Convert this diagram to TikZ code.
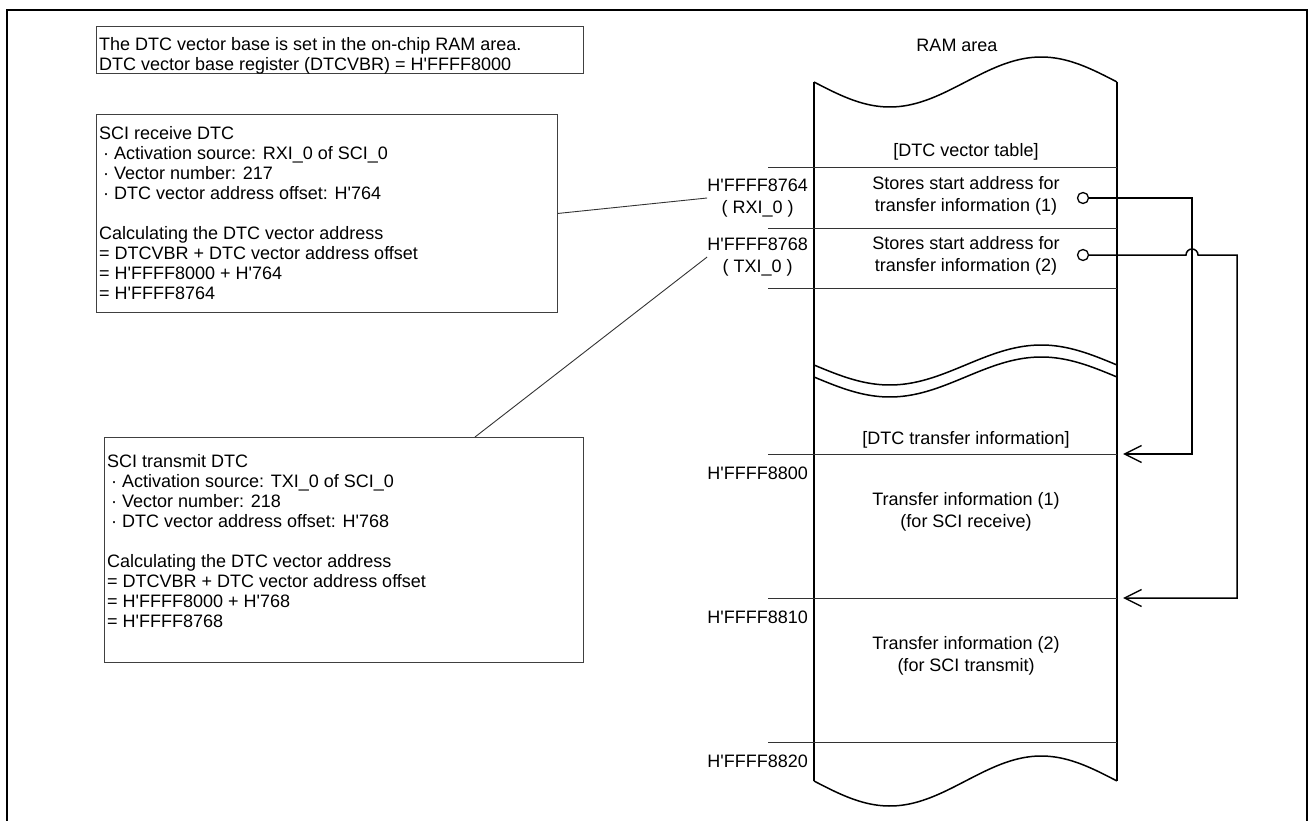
\documentclass[tikz,border=0pt]{standalone}
\usepackage{fontspec}
\newfontfamily\arial{Liberation Sans}
\usetikzlibrary{arrows.meta}
\begin{document}
\begin{tikzpicture}[x=1pt,y=-1pt,
  txt/.style={font=\arial\fontsize{18}{20}\selectfont, inner sep=0pt, align=left},
  ctxt/.style={font=\arial\fontsize{18}{22}\selectfont, inner sep=0pt, align=center},
  boxline/.style={draw=black!75, line width=0.9pt, inner sep=0pt},
  ramline/.style={line width=1.5pt},
  divline/.style={line width=0.9pt, draw=black!80},
  conn/.style={line width=1.5pt},
  tip/.style={-{Straight Barb[length=17pt,width=17pt,line width=1.4pt]}},
  port/.style={circle, draw, line width=1.3pt, minimum size=11pt, inner sep=0pt, fill=white},
  frame/.style={line width=2.5pt}
]
\useasboundingbox (0,0) rectangle (1314,821);
\draw[frame] (7,830) -- (7,10) -- (1307,10) -- (1307,830);

% left boxes
\node[boxline, anchor=north west, minimum width=487pt, minimum height=47pt] (b1) at (96,26) {};
\node[txt, anchor=north west] (t1) at (99,37.5) {The DTC vector base is set in the on-chip RAM area.\\DTC vector base register (DTCVBR) = H'FFFF8000};

\node[boxline, anchor=north west, minimum width=461pt, minimum height=198pt] (b2) at (96,114) {};
\node[txt, anchor=north west] (t2) at (99,126.5) {SCI receive DTC\\
\hspace{4pt}·\ Activation source: RXI\_0 of SCI\_0\\
\hspace{4pt}·\ Vector number: 217\\
\hspace{4pt}·\ DTC vector address offset: H'764\\[20pt]
Calculating the DTC vector address\\
= DTCVBR + DTC vector address offset\\
= H'FFFF8000 + H'764\\
= H'FFFF8764};

\node[boxline, anchor=north west, minimum width=479pt, minimum height=225pt] (b3) at (104,437) {};
\node[txt, anchor=north west] (t3) at (107,454.5) {SCI transmit DTC\\
\hspace{4pt}·\ Activation source: TXI\_0 of SCI\_0\\
\hspace{4pt}·\ Vector number: 218\\
\hspace{4pt}·\ DTC vector address offset: H'768\\[20pt]
Calculating the DTC vector address\\
= DTCVBR + DTC vector address offset\\
= H'FFFF8000 + H'768\\
= H'FFFF8768};

% RAM area
\node[ctxt] (ramtitle) at (957,45) {RAM area};
\draw[ramline] (814,82) -- (814,781);
\draw[ramline] (1117,82) -- (1117,781);
\draw[ramline] plot[domain=0:1, samples=90] ({814+303*\x},{82+25*sin(360*\x)});
\draw[ramline] plot[domain=0:1, samples=90] ({814+303*\x},{365+20*sin(360*\x)});
\draw[ramline] plot[domain=0:1, samples=90] ({814+303*\x},{377+20*sin(360*\x)});
\draw[ramline] plot[domain=0:1, samples=90] ({814+303*\x},{781+25*sin(360*\x)});

% dividers
\foreach \yy in {167,228,288,454,598,742}
  \draw[divline] (768,\yy) -- (1117,\yy);

% contents
\node[ctxt] (vt) at (966,152) {[DTC vector table]};
\node[ctxt] (s1) at (966,196) {Stores start address for\\transfer information (1)};
\node[ctxt] (s2) at (966,256) {Stores start address for\\transfer information (2)};
\node[ctxt] (ti) at (966,440) {[DTC transfer information]};
\node[ctxt] (tr1) at (966,512) {Transfer information (1)\\(for SCI receive)};
\node[ctxt] (tr2) at (966,656) {Transfer information (2)\\(for SCI transmit)};

% address labels
\node[ctxt, anchor=east] (lab1) at (808,198) {H'FFFF8764\\( RXI\_0 )};
\node[ctxt, anchor=east] (lab2) at (808,257) {H'FFFF8768\\( TXI\_0 )};
\node[ctxt, anchor=east] (lab3) at (808,473) {H'FFFF8800};
\node[ctxt, anchor=east] (lab4) at (808,617) {H'FFFF8810};
\node[ctxt, anchor=east] (lab5) at (808,761) {H'FFFF8820};

% leaders
\draw[divline] (b2.east) -- (lab1.west);
\draw[divline] ([xshift=371pt]b3.north west) -- (lab2.west);

% connectors
\node[port] (p1) at (1083,198) {};
\node[port] (p2) at (1083,255) {};
\coordinate (a1) at (1123,454);
\coordinate (a2) at (1123,598);
\coordinate (k1) at (1192,198);
\coordinate (j1) at (1186,255);
\coordinate (k2) at (1237,255);
\draw[conn, tip] (p1.east) -- (k1) |- (a1);
\draw[conn, tip] (p2.east) -- (j1) arc[start angle=180, end angle=0, radius=6pt] -- (k2) |- (a2);
\end{tikzpicture}
\end{document}
